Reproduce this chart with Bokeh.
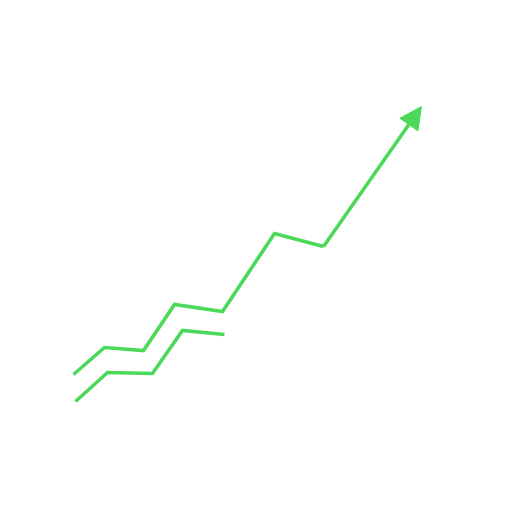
from bokeh.plotting import figure
from bokeh.models import Arrow, NormalHead, Range1d
from bokeh.embed import file_html
from bokeh.resources import INLINE

# upper trend line (with arrow), image-like coordinates
upper_x = [73, 104, 143, 174, 222, 274, 323]
upper_y = [374, 347, 350, 304, 311, 233, 246]
arrow_tip_x = 421
arrow_tip_y = 106

# lower trend line
lower_x = [75, 107, 152, 182, 224]
lower_y = [401, 372, 373, 330, 334]

GREEN = "#4cd95a"

p = figure(width=496, height=496, output_backend="svg", toolbar_location=None,
           x_range=Range1d(0, 496), y_range=Range1d(496, 0),
           min_border=0, outline_line_color=None, background_fill_color="white")
p.axis.visible = False
p.grid.visible = False

p.line(upper_x, upper_y, line_color=GREEN, line_width=3.6, line_join="miter")
p.line(lower_x, lower_y, line_color=GREEN, line_width=3.6, line_join="miter")

p.add_layout(Arrow(x_start=upper_x[-1], y_start=upper_y[-1], x_end=arrow_tip_x, y_end=arrow_tip_y,
                   line_color=GREEN, line_width=3.6,
                   end=NormalHead(size=22, fill_color=GREEN, line_color=GREEN, line_width=1)))

open("out.html", "w").write(file_html(p, INLINE))
